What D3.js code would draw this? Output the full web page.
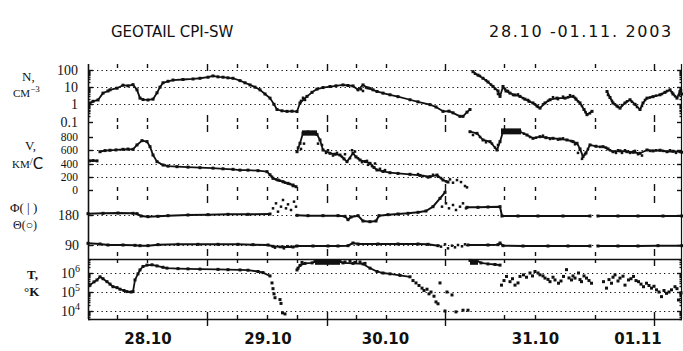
<!DOCTYPE html>
<html>
<head>
<meta charset="utf-8">
<script src="https://cdn.jsdelivr.net/npm/d3@7"></script>
<style>
  body { margin: 0; background: #fff; }
  svg { display: block; }
</style>
</head>
<body>
<svg id="chart" width="683" height="351"></svg>
<script>
// ---- time axis (hours from 28.10 00:00 UT) ----
const dayLabels = ["28.10", "29.10", "30.10", "31.10", "01.11"];
const dayLabelHours = [12, 36, 59.5, 89.5, 110];
const majorTickHours = [23.8, 47.8, 71.4, 113.2];
const minorTickHours = [5.8, 11.8, 29.8, 35.8, 41.8, 53.6, 59.6, 83.2, 89.4, 101.4];

// ---- value-axis ticks ----
const densityTicks = [0.1, 1, 10, 100];
const densityTickLabels = ["0.1", "1", "10", "100"];
const speedTicks = [0, 200, 400, 600, 800];
const speedGrid = [200, 400, 600];
const angleTicks = [90, 180];
const tempTicks = [1e4, 1e5, 1e6];
const tempTickExponents = ["4", "5", "6"];

// ---- ion density N, cm^-3 : [hour, value] ----
const densityTrace = [
  [0.4,1.2],[1,1.5],[2,1.8],[3,4.5],[4,6],[4.4,7],[5.8,8.7],[7,13],[8,12],[9,14],[9.8,7],
  [10.4,2.3],[11,1.9],[12,1.8],[13,2],[13.8,4.7],[14.4,10],[15,18],[16,22],[17,26],[19,28],
  [21,30],[22.4,33],[24,38],[25,45],[26,40],[27,38],[28,35],[29,33],[30.4,24],[31.4,18],
  [32.4,13.5],[33.4,10],[34.4,7],[35.4,4],[36.4,2.3],[37.2,1],[37.8,0.5],[38.8,0.42],
  [39.8,0.39],[40.8,0.4],[41.8,0.38],[42.4,1.2],[43.2,2],[43.8,2.9],[44.8,5],[45.8,7.7],
  [47,9.5],[48.4,10.9],[49.6,12],[51,13.5],[52,12.5],[53,11.8],[54,7],[55,13.5],[56,9],
  [57,7],[57.8,5.6],[59,4.5],[60.4,3.6],[62,2.8],[64.4,1.85],[66,1.4],[68.4,0.96],[69.6,0.7],
  [71,0.39],[72.2,0.4],[73,0.32],[74.4,0.2],[75,0.2],[75.8,0.35],[76.4,0.5],
  null,
  [77,80],[78,50],[79,33],[80,20],[81,11],[82,6],[82.4,2.9],[83,11],[83.6,6],[84.4,4.5],
  [85.4,3.5],[86.4,2.9],[87.4,2],[88.2,1.5],[89,1.2],[89.8,0.8],[90.4,0.6],[91.4,1.2],
  [92.4,1.85],[93.8,2.3],[95.4,2.3],[97,2.9],[97.6,2],[98.4,1.2],[99.2,0.5],[99.8,0.25],[100.8,0.39],
  null,
  [103.8,5.6],[104.4,2.5],[105,1.2],[105.8,0.8],[106.4,0.6],[107.4,1.2],[108.4,1.85],[109.4,1],
  [110.4,0.5],[111,1.2],[111.8,2.3],[113,2.8],[114.4,3.6],[115.4,5],[116.4,7],[117,4],
  [117.8,2.3],[118.4,5.6],[118.8,4]
];
const densityScatter = [
  [42.6,1.6],[43,2.4],[43.4,1.8],[54.6,7.5],[55.6,9.5],[56.4,8.5],[55,6],
  [77.4,60],[78.4,45],[79.6,25],[80.6,14],[81.4,8],[82,4],[83.4,8],[84,6],[85,3.5],[86,3.8],
  [87,2.3],[88,1.8],[89.4,1],[90,0.7],[91,1],[92,1.6],[93,2.6],[94,2],[95,2.8],[96,2.6],
  [96.4,3.4],[97.4,2.4],[98,1.5],[98.8,0.8],[99.5,0.35],[100.4,0.3],[104,3.5],[104.8,1.6],
  [105.4,1],[106,0.7],[106.8,0.9],[107.8,1.5],[108.8,1.4],[109.8,0.7],[110.8,0.8],[111.4,1.8],
  [112.4,2.5],[113.6,3.2],[114.8,4],[115.8,6],[116.8,5],[117.4,3],[118.2,3.5],[118.6,6.5]
];

// ---- bulk speed V, km/s ----
const speedTrace = [
  [0.3,440],[1,445],[1.8,440],
  null,
  [2.4,578],[3.4,595],[4.4,600],[5.6,605],[7,614],[8,618],[9,614],[9.8,680],[10.8,745],
  [11.8,730],[12.4,654],[13,528],[13.8,428],[15,377],[16,360],[17.8,352],[20,345],[22.4,337],
  [25,330],[27,320],[29,312],[30.4,300],[32,300],[34,292],[35.8,277],[36.4,230],[37,176],
  [38,150],[39,125],[40,100],[41,75],[41.6,50],
  null,
  [41.8,578],[42.4,705],[43,860],[44,875],[45,870],[45.8,840],[46.4,755],[47,604],[48.4,554],
  [49.4,540],[50.4,528],[51.2,470],[51.8,428],[53,554],[53.6,500],[54.4,453],[55.4,430],
  [56.4,403],[57.2,340],[57.8,302],[59,280],[60.4,261],[62,250],[64.4,237],[66.4,220],
  [68.4,201],[69.8,226],[71,151],[72,120],
  null,
  [76.4,880],[77.8,855],[79,755],[80.4,730],[81.8,604],[82.4,730],[83,880],[84,885],[85,885],
  [86.4,880],[87.8,830],[89,780],[90.4,805],[91.6,790],[93,780],[94.4,770],[95.8,755],[97,730],
  [97.8,705],[98.4,620],[99,503],[99.6,560],[100.4,680],[101.6,660],[103,654],[104,620],
  [105,578],[106.4,590],[107.8,578],[109,570],[110.4,554],[111.8,604],[113,590],[114.4,600],
  [115.8,578],[117,585],[118.4,578],[118.8,570]
];
const speedScatter = [
  [36.8,200],[37.6,160],[38.4,140],[39.4,110],[40.4,90],[41,60],
  [42,640],[42.6,620],[43.2,700],[46,700],[46.8,680],[47.6,560],[48,600],[49,520],[49.8,560],
  [50.8,500],[51.4,540],[52.4,480],[52.8,600],[53.4,580],[54,480],[54.8,420],[55.8,440],
  [56,380],[56.8,360],[57.4,400],[58.4,320],[59.4,300],
  [66,240],[67,210],[68,190],[69,230],[70,200],[70.6,180],[71.6,130],[72.4,160],[73,110],
  [73.8,150],[74.6,120],[75.4,60],[75.8,40],
  [77,830],[78.4,800],[79.6,720],[80.8,700],[81.4,640],[82,680],[87.2,850],[88.4,800],
  [89.6,790],[91,820],[92.4,770],[94,760],[95,780],[96.6,740],[97.4,690],[98,560],[98.8,470],
  [99.4,540],[100,620],[102.4,650],[103.6,640],[104.4,600],[105.6,560],[106,600],[106.8,560],
  [107.4,600],[108.4,560],[109.4,590],[110,540],[110.8,520],[112.4,590],[113.6,600],
  [115,590],[116.4,600],[117.6,560]
];
// dense intervals: [hourFrom, hourTo, low, high]
const speedBlocks = [[42.8, 45.8, 820, 900], [82.6, 86.6, 840, 930]];

// ---- flow direction angles, degrees ----
const phiTrace = [
  [0,184],[3,185],[6,186],[9,185],[9.8,184],[10.6,177],[12,175],[14,176],[16,178],[20,180],
  [24,181],[28,182],[32,182],[36.4,183],
  null,
  [41.8,179],[44,178],[47,178],[50,178],[51.4,176],[52,166],[52.6,174],[54,178],[55,162],
  [56.4,160],[57.6,162],[58.2,178],[60,181],[62,183],[64,185],[66,188],[67.6,192],[69,205],
  [70.4,230],[71.4,248],
  null,
  [75.8,203],[78,203],[80,204],[82.4,205],[82.8,177],[86,177],[90,177],[95,177],[100.4,177],
  null,
  [102,177],[106,177],[110,177],[115,177],[118.8,177]
];
const phiScatter = [
  [37,200],[37.6,215],[38,190],[38.6,205],[39,225],[39.6,200],[40,212],[40.6,195],[41.2,220],
  [41.6,205],[70.8,205],[71.6,215],[72.2,200],[73,210],[73.6,195],[74.4,205],[75,215],[75.6,200]
];
const thetaTrace = [
  [0,95],[2.4,93],[4,90],[7,90],[9.4,89],[10.4,88],[12,88],[14,91],[18,92],[22,92],[26,92],
  [30,92],[33,91],[36,90],[37,86],[39,84],[41,84],[41.8,87],[45,87],[48,87],[50,87],[52,88],
  [53,96],[54,93],[58,93],[62,93],[66,93],[68,92],[70,88],
  null,
  [76,90],[80,90],[82,91],[82.4,96],[83,88],[87,87],[92,87],[96,87],[100.4,87],
  null,
  [102,87],[106,87],[110,87],[114,88],[118.8,88]
];
const thetaScatter = [
  [37.4,82],[38.4,84],[39.2,80],[40,86],[70.6,85],[71.4,92],[72,80],[72.8,88],[73.4,83],
  [74,90],[74.8,86],[75.4,92]
];

// ---- proton temperature, K ----
const tempTrace = [
  [0.4,2.3e5],[1.2,3.4e5],[1.8,4.3e5],[2.4,6.3e5],[3,5e5],[3.8,3.5e5],[4.4,2.6e5],[5,1.9e5],
  [5.8,1.7e5],[6.4,1.4e5],[7.2,1.2e5],[7.8,1.05e5],[8.6,1.0e5],[9,1.05e5],[9.4,4.3e5],[10,9e5],
  [10.4,1.45e6],[11,2.2e6],[11.8,2.6e6],[12.8,2.7e6],[13.8,2.35e6],[15,2e6],[15.8,1.8e6],
  [18,1.7e6],[20,1.65e6],[22.4,1.6e6],[26,1.55e6],[28,1.5e6],[30.4,1.45e6],[32,1.4e6],
  [34,1.2e6],[35,1.05e6],[36.4,7e5],
  null,
  [41.8,1.45e6],[42.4,2.5e6],[43.4,3.2e6],[44.8,3.4e6],[45.4,4e6],[50.4,4e6],[51,3.4e6],
  [53,3.2e6],[55,3e6],[56.4,1.8e6],[57.8,1.2e6],[59,1e6],[60.4,9e5],[62.4,7.5e5],[64.4,6.3e5],
  null,
  [76.4,4.6e6],[77.8,4.4e6],[78.6,3.4e6],[80,3e6],[81.4,2.8e6],[82.4,2.6e6]
];
const tempScatter = [
  [36.8,3e5],[37,1.5e5],[37.2,8e4],[37.4,5e4],[38.4,4e4],[38.6,2.5e4],[38.9,8e3],[39.4,7e3],
  [42,1.8e6],[42.8,3.6e6],[51.4,3.8e6],[52.4,4.2e6],[53.4,3.6e6],[54.4,3.8e6],[55.4,3.2e6],
  [65,4e5],[65.6,3e5],[66.2,2.2e5],[66.8,1.6e5],[67.2,1.2e5],[67.8,1.4e5],[68.2,8e4],
  [68.6,1e5],[69.2,6e4],[69.6,3e4],[70,2.4e4],[70.4,3e5],[71.4,1e4],[71.8,1e5],[72.8,7e4],
  [73.6,9e3],[75,1.1e4],[76,1.1e4],
  [82.7,2.3e5],[83.7,6.6e5],[84.4,3.5e5],[85.4,2.3e5],[86.4,6.6e5],[87.1,8e5],[88.4,1e6],
  [89.4,1.2e6],[90.4,8e5],[91.4,5.4e5],[92.4,3.5e5],[93.4,4.3e5],[94.1,2.9e5],[95.1,6.6e5],
  [95.7,1.5e6],[96.7,4.3e5],[97.4,5.4e5],[98.1,1e6],[98.7,3.5e5],[99.7,5.4e5],[100.7,2.9e5],
  [83.2,4e5],[84.9,5e5],[86,3e5],[87.7,6e5],[88.9,7e5],[90,1e6],[91,7e5],[92,4.6e5],[93,6e5],
  [94.6,3.8e5],[96.2,5.5e5],[97,7e5],[98.4,4.5e5],[99.2,7e5],[100.2,4e5],
  [103.1,3.5e5],[103.7,1.6e5],[104.7,2.9e5],[105.4,8e5],[106.4,5.4e5],[107.4,2.3e5],
  [108.1,4.3e5],[109.1,6.6e5],[110.1,3.5e5],[111.1,1.9e5],[111.7,2.9e5],[112.7,1.6e5],
  [113.7,1.3e5],[114.7,5.7e4],[115.7,8.5e4],[116.7,1.3e5],[117.4,1.9e5],[118.1,3.8e4],
  [104.2,4.5e5],[105,6e5],[106,3.8e5],[107,6.8e5],[108.6,5e5],[109.6,4e5],[110.6,2.6e5],
  [112.2,2.2e5],[113.2,2e5],[114.2,1e5],[115.2,1.2e5],[116.2,1e5],[117.8,1.5e5],[118.6,9e4]
];
const tempBlocks = [[45.4, 50.4, 2.7e6, 5.4e6], [76.4, 78, 2.7e6, 5.4e6]];

// ---------------------------------------------------------------
const svg = d3.select("#chart");
const INK = "#111";
const x = d3.scaleLinear().domain([0, 118.8]).range([88, 682]);
const X0 = x.range()[0], X1 = x.range()[1];

const yN = d3.scaleLog().domain([0.1, 100]).range([121.5, 70]);
const yV = d3.scaleLinear().domain([0, 800]).range([190, 137]);
const yA = d3.scaleLinear().domain([90, 180]).range([245, 215]);
const yT = d3.scaleLog().domain([1e4, 1e6]).range([311, 273]);

const TOP = 64, T_TOP = 259, T_BOT = 319;

// dotted grid lines
function grid(values, y) {
  svg.append("g").selectAll("line").data(values).join("line")
    .attr("x1", X0).attr("x2", X1)
    .attr("y1", d => Math.round(y(d)) + 0.5).attr("y2", d => Math.round(y(d)) + 0.5)
    .attr("stroke", INK).attr("stroke-width", 1).attr("stroke-dasharray", "1.3,3.2");
}
grid([1, 10, 100], yN);
grid(speedGrid, yV);
grid(angleTicks, yA);
grid(tempTicks, yT);

// frame: side axes and temperature box
svg.append("line").attr("x1", X0 + 0.5).attr("x2", X0 + 0.5).attr("y1", TOP).attr("y2", T_BOT)
  .attr("stroke", INK).attr("stroke-width", 1.6);
svg.append("line").attr("x1", X1 - 0.5).attr("x2", X1 - 0.5).attr("y1", TOP).attr("y2", T_BOT)
  .attr("stroke", INK).attr("stroke-width", 1.2);
[T_TOP, T_BOT].forEach(yy => svg.append("line").attr("x1", X0).attr("x2", X1)
  .attr("y1", yy + 0.5).attr("y2", yy + 0.5).attr("stroke", INK).attr("stroke-width", 1.4));

// time ticks on every panel edge: [y, direction]
const tickRows = [[TOP, 1], [122, -1], [125, 1], [191, -1], [196, 1], [256, -1], [T_TOP, 1], [T_BOT, -1]];
const gT = svg.append("g").attr("stroke", INK).attr("stroke-width", 1.4);
tickRows.forEach(([yy, dir]) => {
  minorTickHours.forEach(h => gT.append("line")
    .attr("x1", Math.round(x(h)) + 0.5).attr("x2", Math.round(x(h)) + 0.5)
    .attr("y1", yy).attr("y2", yy + dir * 4));
  majorTickHours.forEach(h => gT.append("line")
    .attr("x1", Math.round(x(h)) + 0.5).attr("x2", Math.round(x(h)) + 0.5)
    .attr("y1", yy).attr("y2", yy + dir * 7));
});
majorTickHours.forEach(h => gT.append("line")
  .attr("x1", Math.round(x(h)) + 0.5).attr("x2", Math.round(x(h)) + 0.5)
  .attr("y1", T_BOT).attr("y2", T_BOT + 7));

// value ticks (inward, both sides); log panels get minor ticks
function valueTicks(values, y, len) {
  values.forEach(v => {
    const yy = Math.round(y(v)) + 0.5;
    gT.append("line").attr("x1", X0).attr("x2", X0 + len).attr("y1", yy).attr("y2", yy);
    gT.append("line").attr("x1", X1).attr("x2", X1 - len).attr("y1", yy).attr("y2", yy);
  });
}
valueTicks(densityTicks, yN, 5);
valueTicks(yN.ticks().filter(v => !densityTicks.includes(v)), yN, 2.5);
valueTicks(speedTicks, yV, 5);
valueTicks(angleTicks, yA, 5);
const tLog = d3.scaleLog().domain([4e3, 5e6]);
valueTicks(tempTicks, yT, 5);
valueTicks(tLog.ticks().filter(v => !tempTicks.includes(v) && v >= 4e3 && v <= 5.4e6), yT, 2.5);

// data marks
function trace(data, y, w) {
  const line = d3.line().defined(d => d !== null).x(d => x(d[0])).y(d => y(d[1]));
  svg.append("path").datum(data).attr("d", line)
    .attr("fill", "none").attr("stroke", INK).attr("stroke-width", w)
    .attr("stroke-linejoin", "round");
  svg.append("g").selectAll("rect").data(data.filter(d => d !== null)).join("rect")
    .attr("x", d => x(d[0]) - 1.5).attr("y", d => y(d[1]) - 1.5)
    .attr("width", 3).attr("height", 3).attr("fill", INK);
}
function dots(data, y, s) {
  svg.append("g").selectAll("rect").data(data).join("rect")
    .attr("x", d => x(d[0]) - s / 2).attr("y", d => y(d[1]) - s / 2)
    .attr("width", s).attr("height", s).attr("fill", INK);
}
function blocks(data, y) {
  svg.append("g").selectAll("rect").data(data).join("rect")
    .attr("x", d => x(d[0])).attr("width", d => x(d[1]) - x(d[0]))
    .attr("y", d => y(d[3])).attr("height", d => y(d[2]) - y(d[3]))
    .attr("fill", INK);
}
trace(densityTrace, yN, 1.8);
dots(densityScatter, yN, 2.5);
trace(speedTrace, yV, 1.8);
dots(speedScatter, yV, 2.5);
blocks(speedBlocks, yV);
trace(phiTrace, yA, 2);
dots(phiScatter, yA, 2.5);
trace(thetaTrace, yA, 2);
dots(thetaScatter, yA, 2.5);
trace(tempTrace, yT, 1.8);
dots(tempScatter, yT, 3);
blocks(tempBlocks, yT);

// value labels
const serif = "'Liberation Serif', 'DejaVu Serif', serif";
const gL = svg.append("g").attr("font-family", serif).attr("fill", INK)
  .attr("font-size", 14).attr("text-anchor", "end");
densityTicks.forEach((v, i) => gL.append("text").attr("x", 78).attr("y", yN(v) + 5).text(densityTickLabels[i]));
speedTicks.forEach(v => gL.append("text").attr("x", 78).attr("y", yV(v) + 4)
  .attr("font-size", 11.5).text(v));
angleTicks.forEach(v => gL.append("text").attr("x", 79).attr("y", yA(v) + 5).text(v));
tempTicks.forEach((v, i) => {
  const t = gL.append("text").attr("x", 80).attr("y", yT(v) + 5);
  t.append("tspan").text("10");
  t.append("tspan").attr("font-size", 10).attr("dy", -6).text(tempTickExponents[i]);
});

// quantity labels
const gQ = svg.append("g").attr("font-family", serif).attr("fill", INK).attr("font-size", 13);
gQ.append("text").attr("x", 22).attr("y", 81).text("N,");
const cm = gQ.append("text").attr("x", 13).attr("y", 97).attr("font-size", 11);
cm.append("tspan").text("CM");
cm.append("tspan").attr("font-size", 9).attr("dy", -5).text("−3");
gQ.append("text").attr("x", 25).attr("y", 150).text("V,");
const km = gQ.append("text").attr("x", 12).attr("y", 168).attr("font-size", 11);
km.append("tspan").text("KM");
km.append("tspan").attr("dy", -3).text("/");
km.append("tspan").attr("dy", 4).attr("font-size", 15).attr("font-family", "'DejaVu Sans', sans-serif").text("C");
gQ.append("text").attr("x", 10).attr("y", 212).text("Φ( | )");
gQ.append("text").attr("x", 13).attr("y", 229).attr("font-size", 12).text("Θ(○)");
gQ.append("text").attr("x", 27).attr("y", 279).attr("font-weight", "bold").text("T,");
gQ.append("text").attr("x", 24).attr("y", 296).attr("font-weight", "bold").text("°K");

// day labels
svg.append("g").attr("font-family", "'DejaVu Sans', sans-serif").attr("font-weight", "bold")
  .attr("font-size", 15).attr("text-anchor", "middle").attr("fill", INK)
  .selectAll("text").data(dayLabels).join("text")
  .attr("x", (d, i) => x(dayLabelHours[i])).attr("y", 344).text(d => d);

// headings
svg.append("text").attr("x", 111).attr("y", 37).attr("font-family", "'DejaVu Sans', sans-serif")
  .attr("font-size", 15).attr("fill", INK).text("GEOTAIL CPI-SW");
svg.append("text").attr("x", 673).attr("y", 37).attr("text-anchor", "end")
  .attr("font-family", "'DejaVu Sans', sans-serif").attr("font-size", 16)
  .attr("letter-spacing", 1.7).attr("fill", INK)
  .text("28.10 -01.11. 2003");
</script>
</body>
</html>
